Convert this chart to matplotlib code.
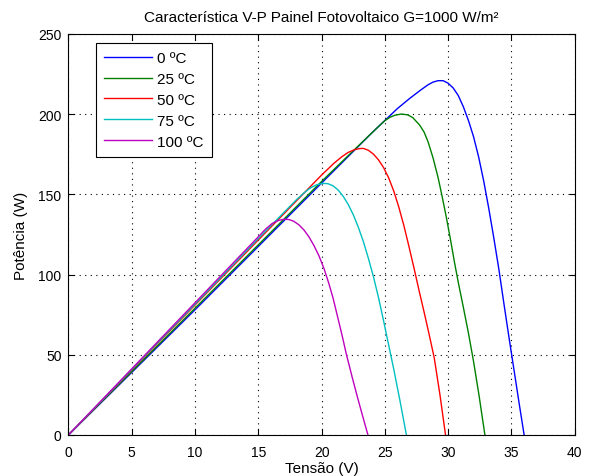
import matplotlib
matplotlib.use("Agg")
import matplotlib.pyplot as plt

plt.rcParams['font.family'] = ['Liberation Sans', 'DejaVu Sans']

# curves (Tensão V, Potência W)
v_0 = [0, 5, 10, 15, 20, 24, 25, 26, 27, 27.8, 28.4, 28.8, 29.2, 29.6, 30.0, 30.4, 30.8, 31.2, 31.6,
       32.0, 32.4, 32.8, 33.2, 33.6, 34.0, 34.4, 34.8, 35.2, 35.6, 36.0]
p_0 = [0, 39, 78, 117.5, 157, 188.5, 196, 203.5, 210, 214.8, 218.2, 219.9, 220.8, 220.8, 219.2, 216.2,
       211.5, 204.5, 196, 186, 173.5, 158.5, 141.5, 123, 103.5, 82, 61, 40.5, 20, 0]

v_25 = [0, 5, 10, 15, 20, 22, 24, 24.6, 25.0, 25.4, 25.8, 26.3, 26.8, 27.2, 27.75, 28.1, 28.41, 28.8,
        29.2, 29.5, 29.87, 30.2, 30.5, 30.8, 31.2, 31.6, 32.0, 32.45, 32.9]
p_25 = [0, 39.5, 79, 118.5, 158, 173.3, 188.5, 193, 195.9, 198, 199.3, 200, 199.5, 197.8, 193.1, 188.7,
        182.7, 172.8, 160.5, 149.5, 135, 121, 107.5, 95, 79.5, 63.5, 46, 24, 0]

v_50 = [0, 5, 10, 15, 20, 21, 21.6, 22.1, 22.6, 23.0, 23.3, 23.7, 24.1, 24.5, 24.9, 25.3, 25.7, 26.1,
        26.5, 26.9, 27.3, 27.7, 28.1, 28.5, 28.9, 29.35, 29.79]
p_50 = [0, 40.5, 81, 121.5, 162, 169.5, 173.4, 176.1, 177.8, 178.5, 178.6, 177.4, 175, 171.4, 166.6,
        160.2, 152, 142, 130.5, 117.5, 104, 90, 76.5, 62.5, 48, 25, 0]

v_75 = [0, 5, 10, 15, 17, 18, 18.6, 19.1, 19.6, 20.1, 20.5, 20.9, 21.3, 21.7, 22.1, 22.5, 22.9, 23.3,
        23.7, 24.1, 24.5, 24.9, 25.3, 25.7, 26.2, 26.7]
p_75 = [0, 40.8, 81.6, 122.4, 138.5, 146.5, 150.8, 153.9, 155.9, 156.8, 156.6, 155.3, 152.7, 148.8,
        143.7, 137.3, 129.5, 120.5, 110, 98.5, 85.5, 71, 56, 41, 21, 0]

v_100 = [0, 5, 10, 15, 15.6, 16.1, 16.6, 17.0, 17.4, 17.8, 18.2, 18.6, 19.0, 19.4, 19.8, 20.2, 20.55,
         20.9, 21.3, 21.65, 21.95, 22.4, 22.8, 23.2, 23.66]
p_100 = [0, 41.2, 82.4, 123.5, 128.5, 131.8, 133.7, 134.4, 134.3, 133.2, 131, 127.8, 123.5, 118, 111.5,
         103.5, 95, 85.5, 72.5, 61, 50.5, 36.5, 24.5, 13, 0]

labels = ['0 ºC', '25 ºC', '50 ºC', '75 ºC', '100 ºC']
colors = ['#0000ff', '#008000', '#ff0000', '#00bfbf', '#bf00bf']
series = [(v_0, p_0), (v_25, p_25), (v_50, p_50), (v_75, p_75), (v_100, p_100)]

fig = plt.figure(figsize=(5.95, 4.77), dpi=100)
ax = fig.add_axes([0.115, 0.086, 0.851, 0.841])

for (v, p), lab, c in zip(series, labels, colors):
    ax.plot(v, p, color=c, linewidth=1, label=lab)

ax.set_xlim(0, 40)
ax.set_ylim(0, 250)
ax.set_xticks(range(0, 41, 5))
ax.set_yticks(range(0, 251, 50))
ax.grid(True, color='black', linestyle=(0, (1, 4)), linewidth=0.8)
ax.tick_params(direction='in', top=True, right=True, labelsize=10, length=4)
ax.tick_params(axis='x', pad=7)
ax.tick_params(axis='y', pad=5)
for s in ax.spines.values():
    s.set_linewidth(0.8)

ax.set_title('Característica V-P Painel Fotovoltaico G=1000 W/m²', fontsize=11, pad=9)
ax.set_xlabel('Tensão (V)', fontsize=11, labelpad=2)
ax.set_ylabel('Potência (W)', fontsize=11, labelpad=7)

leg = ax.legend(loc='upper left', bbox_to_anchor=(0.054, 0.978), borderaxespad=0, fontsize=11,
                fancybox=False, framealpha=1, edgecolor='black', handlelength=3.1,
                handletextpad=0.35, borderpad=0.55, labelspacing=0.45)
leg.get_frame().set_linewidth(0.8)

fig.savefig('out.png', dpi=100)
